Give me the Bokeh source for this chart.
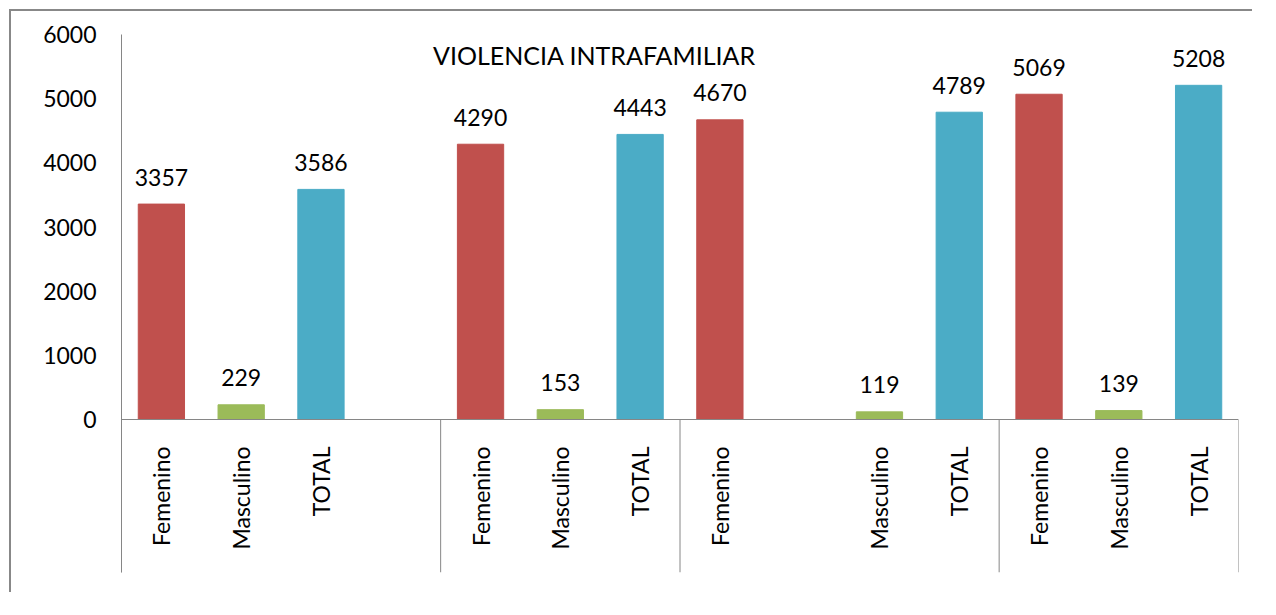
import math
from bokeh.plotting import figure
from bokeh.models import ColumnDataSource, FixedTicker, Range1d, Span, Label
from bokeh.core.properties import value
from bokeh.embed import file_html
from bokeh.resources import INLINE

# ---- data ----
slot_labels = ["Femenino", "Masculino", "TOTAL", "",
               "Femenino", "Masculino", "TOTAL",
               "Femenino", "", "Masculino", "TOTAL",
               "Femenino", "Masculino", "TOTAL"]
slot_values = [3357, 229, 3586, None,
               4290, 153, 4443,
               4670, None, 119, 4789,
               5069, 139, 5208]
group_sizes = [4, 3, 4, 3]
y_ticks = [0, 1000, 2000, 3000, 4000, 5000, 6000]
title_text = "VIOLENCIA INTRAFAMILIAR"
series_colors = {"Femenino": "#C0504D", "Masculino": "#9BBB59", "TOTAL": "#4BACC6"}

FONT = "Lato"
n_slots = len(slot_labels)
px_per_unit = 385.0 / 6000.0
y_bottom = -(573 - 420) / px_per_unit

p = figure(width=1243, height=583, output_backend="svg", toolbar_location=None,
           x_range=Range1d(0, n_slots), y_range=Range1d(y_bottom, 6000),
           x_axis_location=None, min_border_left=110, min_border_top=23,
           min_border_right=16, min_border_bottom=22)
p.styles = {"border-left": "2px solid #888888", "border-top": "2px solid #888888",
            "margin-left": "9px", "margin-top": "9px"}
p.outline_line_color = None
p.xgrid.visible = False
p.ygrid.visible = False
p.background_fill_color = "white"
p.border_fill_color = "white"

ya = p.yaxis[0]
ya.ticker = FixedTicker(ticks=y_ticks)
ya.axis_line_color = "#868686"
ya.major_tick_line_color = None
ya.minor_tick_line_color = None
ya.major_tick_out = 0
ya.major_tick_in = 0
ya.major_label_standoff = 25
ya.major_label_text_font = FONT
ya.major_label_text_font_size = "23px"
ya.major_label_text_color = "#000000"

# bars
xs, tops, cols, labs = [], [], [], []
for i, (lab, v) in enumerate(zip(slot_labels, slot_values)):
    if v is None:
        continue
    xs.append(i + 0.5)
    tops.append(v)
    cols.append(series_colors[lab])
    labs.append(str(v))
src = ColumnDataSource(dict(x=xs, top=tops, color=cols, lab=labs))
p.vbar(x="x", top="top", bottom=0, width=0.58, color="color", source=src)
p.text(x="x", y="top", text="lab", source=src, text_align="center",
       text_baseline="middle", y_offset=-27, text_font=value(FONT),
       text_font_size="23px", text_color="#000000")

# category axis line at zero
p.add_layout(Span(location=0, dimension="width", line_color="#868686", line_width=1))

# category labels
cx = [i + 0.5 for i, l in enumerate(slot_labels) if l]
ct = [l for l in slot_labels if l]
csrc = ColumnDataSource(dict(x=cx, y=[0] * len(cx), t=ct))
p.text(x="x", y="y", text="t", source=csrc, angle=math.pi / 2,
       text_align="right", text_baseline="middle", y_offset=27,
       text_font=value(FONT), text_font_size="23px", text_color="#000000")

# group separators
bounds = [0]
for g in group_sizes:
    bounds.append(bounds[-1] + g)
p.segment(x0=bounds, y0=[0] * len(bounds), x1=bounds, y1=[y_bottom] * len(bounds),
          line_color="#868686", line_width=1)

# title inside plot
p.add_layout(Label(x=(595 - 122) / (1117 / n_slots), y=(420 - 55) / px_per_unit,
                   text=title_text, text_align="center", text_baseline="middle",
                   text_font=FONT, text_font_size="25px", text_color="#000000"))

open("out.html", "w").write(file_html(p, INLINE))
